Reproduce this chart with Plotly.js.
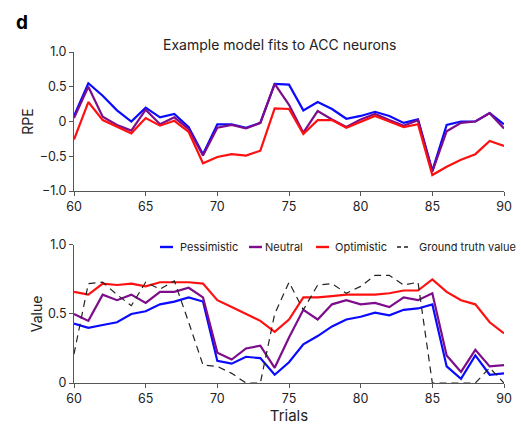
<!DOCTYPE html>
<html>
<head>
<meta charset="utf-8">
<script src="https://cdn.plot.ly/plotly-3.0.1.min.js"></script>
<style>html,body{margin:0;padding:0;background:#fff;}#chart{width:521px;height:425px;}</style>
</head>
<body>
<div id="chart"></div>
<script>
const trials = [60,61,62,63,64,65,66,67,68,69,70,71,72,73,74,75,76,77,78,79,80,81,82,83,84,85,86,87,88,89,90];

// RPE (top panel)
const rpePessimistic = [0.08,0.55,0.37,0.16,0.0,0.2,0.06,0.11,-0.08,-0.47,-0.04,-0.04,-0.09,-0.02,0.54,0.53,0.16,0.28,0.18,0.04,0.08,0.14,0.08,-0.02,0.03,-0.71,-0.05,0.0,0.0,0.12,-0.04];
const rpeNeutral     = [0.05,0.5,0.07,-0.05,-0.13,0.17,-0.04,0.06,-0.11,-0.49,-0.09,-0.05,-0.1,-0.02,0.54,0.24,-0.16,0.15,0.03,-0.08,0.03,0.11,0.02,-0.06,0.02,-0.72,-0.14,-0.02,0.0,0.12,-0.1];
const rpeOptimistic  = [-0.26,0.28,0.02,-0.08,-0.17,0.05,-0.06,0.01,-0.15,-0.6,-0.51,-0.47,-0.49,-0.42,0.19,0.18,-0.18,0.02,0.02,-0.09,-0.01,0.08,0.0,-0.08,-0.04,-0.77,-0.65,-0.55,-0.47,-0.28,-0.35];

// Value (bottom panel)
const valPessimistic = [0.43,0.4,0.42,0.44,0.5,0.52,0.57,0.59,0.62,0.59,0.16,0.14,0.19,0.18,0.06,0.15,0.28,0.34,0.41,0.46,0.48,0.51,0.49,0.53,0.54,0.57,0.12,0.03,0.2,0.06,0.07];
const valNeutral     = [0.5,0.45,0.64,0.6,0.64,0.58,0.66,0.66,0.69,0.62,0.22,0.17,0.25,0.27,0.11,0.33,0.53,0.46,0.57,0.6,0.57,0.58,0.55,0.62,0.6,0.65,0.2,0.08,0.24,0.12,0.13];
const valOptimistic  = [0.66,0.64,0.72,0.71,0.72,0.7,0.73,0.73,0.73,0.72,0.6,0.55,0.5,0.45,0.37,0.46,0.62,0.62,0.63,0.64,0.64,0.64,0.65,0.67,0.67,0.75,0.66,0.6,0.57,0.44,0.36];
const groundTruth    = [0.21,0.72,0.73,0.64,0.56,0.73,0.68,0.74,0.44,0.13,0.12,0.07,0.0,0.0,0.5,0.73,0.53,0.71,0.72,0.65,0.7,0.78,0.78,0.71,0.73,0.0,0.0,0.0,0.0,0.11,0.0];

const names = ['Pessimistic','Neutral','Optimistic','Ground truth value'];
const colors = ['#0a0aff','#7d0d8a','#ff1010','#222222'];
const FONT = 'Inter, "Noto Sans", sans-serif';

const traces = [];
const topSeries = [rpePessimistic, rpeNeutral, rpeOptimistic];
topSeries.forEach((ys,i)=>{
  traces.push({x:trials,y:ys,type:'scatter',mode:'lines',xaxis:'x',yaxis:'y',name:names[i],
    line:{color:colors[i],width:2.2},showlegend:false});
});
const botSeries = [valPessimistic, valNeutral, valOptimistic];
botSeries.forEach((ys,i)=>{
  traces.push({x:trials,y:ys,type:'scatter',mode:'lines',xaxis:'x2',yaxis:'y2',name:names[i],
    line:{color:colors[i],width:2.2},showlegend:false});
});
traces.push({x:trials,y:groundTruth,type:'scatter',mode:'lines',xaxis:'x2',yaxis:'y2',name:names[3],
  line:{color:colors[3],width:1.2,dash:'7px,5px'},showlegend:false});

// compact legend (keys + labels) placed in paper coordinates
const L = 74, W = 430, B = 383, H = 331;
const px = v => (v - L) / W;
const py = v => (B - v) / H;
const legY = py(247);
const keyX = [160, 249, 316, 397];
const textX = [178, 263, 333, 417];
const shapes = [];
const annotations = [];
names.forEach((n,i)=>{
  shapes.push({type:'line',xref:'paper',yref:'paper',x0:px(keyX[i]),x1:px(keyX[i]+13),y0:legY,y1:legY,
    line:{color:colors[i],width:i===3?1.4:2.4,dash:i===3?'4px,3px':'solid'}});
  annotations.push({text:n,xref:'paper',yref:'paper',x:px(textX[i]),y:legY,xanchor:'left',yanchor:'middle',
    showarrow:false,font:{family:FONT,size:11,color:'#222'}});
});
annotations.push({text:'<b>d</b>',xref:'paper',yref:'paper',x:px(14),y:py(22),xanchor:'left',yanchor:'middle',
  showarrow:false,font:{family:FONT,size:19,color:'#000'}});

const axisCommon = {showline:true,linecolor:'#555',linewidth:1,ticks:'outside',ticklen:4,tickcolor:'#555',
  showgrid:false,zeroline:false,tickfont:{family:FONT,size:12.5,color:'#222'}};

const layout = {
  width:521,height:425,
  margin:{l:74,r:17,t:52,b:42},
  paper_bgcolor:'#fff',plot_bgcolor:'#fff',
  font:{family:FONT,color:'#222'},
  showlegend:false,
  title:{text:'Example model fits to ACC neurons',font:{family:FONT,size:14,color:'#222'},x:0.537,xanchor:'center',y:0.895,yanchor:'middle'},
  xaxis:Object.assign({},axisCommon,{domain:[0,1],anchor:'y',range:[60,90],tickvals:[60,65,70,75,80,85,90]}),
  yaxis:Object.assign({},axisCommon,{domain:[0.58,1],anchor:'x',range:[-1,1],tickvals:[1,0.5,0,-0.5,-1],
    ticktext:['1.0','0.5','0','\u22120.5','\u22121.0'],title:{text:'RPE',font:{family:FONT,size:14,color:'#222'},standoff:2}}),
  xaxis2:Object.assign({},axisCommon,{domain:[0,1],anchor:'y2',range:[60,90],tickvals:[60,65,70,75,80,85,90],
    title:{text:'Trials',font:{family:FONT,size:15,color:'#222'},standoff:14}}),
  yaxis2:Object.assign({},axisCommon,{domain:[0,0.417],anchor:'x2',range:[0,1],tickvals:[0,0.5,1],
    ticktext:['0','0.5','1.0'],title:{text:'Value',font:{family:FONT,size:14,color:'#222'},standoff:2}}),
  shapes:shapes,
  annotations:annotations
};

Plotly.newPlot('chart',traces,layout,{displayModeBar:false,staticPlot:true});
</script>
</body>
</html>
